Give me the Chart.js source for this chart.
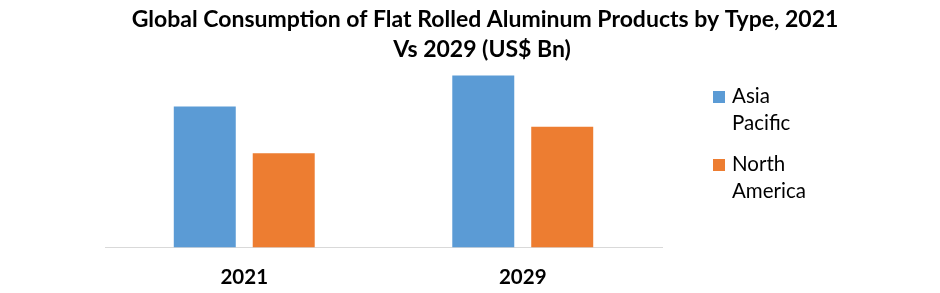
<!DOCTYPE html>
<html><head><meta charset="utf-8">
<script src="https://cdn.jsdelivr.net/npm/chart.js@4"></script>
<style>html,body{margin:0;padding:0;background:#fff}#wrap{width:940px;height:293px}</style>
</head><body><div id="wrap"><canvas id="c" width="940" height="293"></canvas></div>
<script>
const titleLines = ["Global Consumption of Flat Rolled Aluminum Products by Type, 2021", "Vs 2029 (US$ Bn)"];
const categories = ["2021", "2029"];
const seriesNames = ["Asia Pacific", "North America"];
const legendLines = [["Asia", "Pacific"], ["North", "America"]];
const asiaPacific = [29.5, 36.0];
const northAmerica = [19.7, 25.3];
const colors = ["#5B9BD5", "#ED7D31"];
const FONT = "Lato, 'Open Sans', sans-serif";

const decor = {
  id: 'decor',
  afterDraw(chart) {
    const ctx = chart.ctx;
    ctx.save();
    ctx.fillStyle = '#000';
    ctx.textAlign = 'center';
    ctx.textBaseline = 'alphabetic';
    ctx.font = "bold 23px " + FONT;
    ctx.fillText(titleLines[0], 485, 27);
    ctx.fillText(titleLines[1], 482, 57);
    ctx.textAlign = 'left';
    ctx.textBaseline = 'alphabetic';
    ctx.font = "20.5px " + FONT;
    const baselines = [103, 171];
    chart.data.datasets.forEach((ds, i) => {
      const b = baselines[i];
      ctx.fillStyle = ds.backgroundColor;
      ctx.fillRect(713, b - 12, 12, 12);
      ctx.fillStyle = '#000';
      legendLines[i].forEach((t, j) => ctx.fillText(t, 732, b + j * 27));
    });
    ctx.restore();
  }
};

new Chart(document.getElementById('c'), {
  type: 'bar',
  data: {
    labels: categories,
    datasets: [
      { label: seriesNames[0], data: asiaPacific, backgroundColor: colors[0] },
      { label: seriesNames[1], data: northAmerica, backgroundColor: colors[1] }
    ]
  },
  options: {
    responsive: false,
    animation: false,
    devicePixelRatio: 1,
    layout: { padding: { left: 105, right: 278, top: 66, bottom: -15 } },
    datasets: { bar: { categoryPercentage: 0.567, barPercentage: 0.785 } },
    plugins: { legend: { display: false }, title: { display: false }, tooltip: { enabled: false } },
    scales: {
      x: {
        grid: { display: false, drawTicks: false },
        border: { display: true, color: '#D9D9D9', width: 1 },
        ticks: { color: '#000', padding: 18, font: { family: FONT, size: 20.5, weight: 'bold' } }
      },
      y: { display: false, min: 0, max: 38 }
    }
  },
  plugins: [decor]
});
</script></body></html>
